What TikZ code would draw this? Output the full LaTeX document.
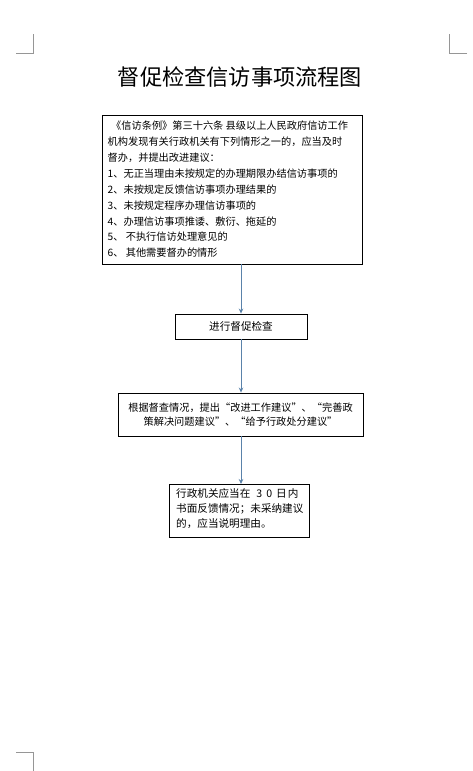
\documentclass[tikz,border=0pt]{standalone}
\usepackage{fontspec}
\setmainfont{Noto Sans CJK SC}
\newfontfamily\cjk{Noto Sans CJK SC}
\usetikzlibrary{arrows.meta}
\definecolor{arrowblue}{RGB}{90,130,170}
\definecolor{markgray}{RGB}{150,150,150}
\tikzset{
  box/.style={draw=black, line width=0.9pt, fill=none},
  txt/.style={font=\cjk\fontsize{10.2}{11}\selectfont, anchor=west, inner sep=0pt},
  txtb/.style={font=\cjk\fontsize{10.6}{11}\selectfont, anchor=west, inner sep=0pt},
  ctxt/.style={font=\cjk\fontsize{10.2}{14.5}\selectfont, align=center, inner sep=0pt},
  flow/.style={draw=arrowblue, line width=0.8pt, -{Stealth[length=5pt,width=4.5pt]}},
  cornermark/.style={draw=markgray, line width=0.8pt}
}
\begin{document}
\begin{tikzpicture}[x=1pt,y=-1pt]
\useasboundingbox (0,0) rectangle (472,771);
% corner marks
\draw[cornermark] (16,53) -- (33,53) -- (33,34);
\draw[cornermark] (467,53) -- (449,53) -- (449,34);
\draw[cornermark] (16,752) -- (33,752) -- (33,771);
% title
\node[font=\cjk\fontsize{22.2}{24}\selectfont, inner sep=0pt] (title) at (240,77) {督促检查信访事项流程图};
% box 1
\draw[box] (102,115) rectangle (362,264);
\coordinate (b1s) at (241,264);
\node[txt] (l1) at (111,126) {《信访条例》第三十六条\ 县级以上人民政府信访工作};
\node[txt] (l2) at (107.5,142) {机构发现有关行政机关有下列情形之一的，应当及时};
\node[txt] (l3) at (107.5,158) {督办，并提出改进建议：};
\node[txt] (l4) at (107.5,173.5) {1、无正当理由未按规定的办理期限办结信访事项的};
\node[txt] (l5) at (107.5,189.5) {2、未按规定反馈信访事项办理结果的};
\node[txt] (l6) at (107.5,205.5) {3、未按规定程序办理信访事项的};
\node[txt] (l7) at (107.5,221.5) {4、办理信访事项推诿、敷衍、拖延的};
\node[txt] (l8) at (107.5,237) {5、\ 不执行信访处理意见的};
\node[txt] (l9) at (107.5,252.5) {6、\ 其他需要督办的情形};
% box 2
\node[box, minimum width=132pt, minimum height=25pt, inner sep=0pt, font=\cjk\fontsize{10.6}{11}\selectfont] (b2) at (241,326.5) {进行督促检查};
% box 3
\node[box, minimum width=245pt, minimum height=43pt, inner sep=0pt, ctxt] (b3) at (240.5,414.5) {根据督查情况，提出“改进工作建议”、“完善政\\策解决问题建议”、“给予行政处分建议”};
% box 4
\draw[box] (169,484) rectangle (309,537);
\node[txtb] (m1) at (176,493) {行政机关应当在\hspace{6pt}3\hspace{4pt}0\hspace{4pt}日\hspace{1pt}内};
\node[txtb] (m2) at (176,508.5) {书面反馈情况；未采纳建议};
\node[txtb] (m3) at (176,524) {的，应当说明理由。};
\coordinate (b4n) at (241,484);
% arrows
\draw[flow] (b1s) -- (b2.north);
\draw[flow] (b2.south) -- (b3.north -| b2.south);
\draw[flow] (b3.south -| b2.south) -- (b4n);
\end{tikzpicture}
\end{document}
